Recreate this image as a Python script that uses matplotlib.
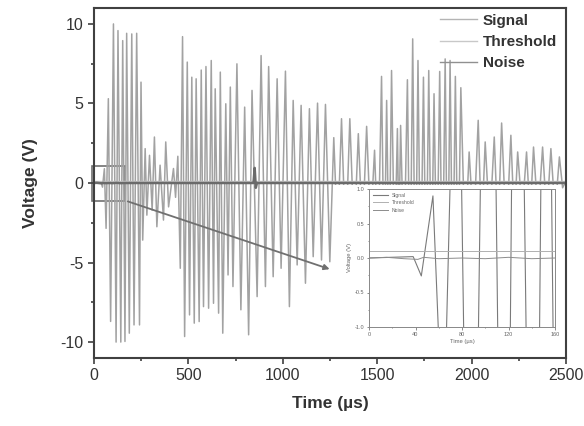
import matplotlib
matplotlib.use('Agg')
import matplotlib.pyplot as plt
from matplotlib.patches import Rectangle
from matplotlib.ticker import MultipleLocator

plt.rcParams['font.family'] = ['Liberation Sans', 'DejaVu Sans']
plt.rcParams['axes.unicode_minus'] = False

# signal vertices (time in us, voltage in V)
sig_t = [0, 38, 45, 55, 64, 76, 88, 103, 117, 127, 142, 152, 164, 173, 187, 200,
         212, 226, 241, 249, 258, 271, 280, 294, 308, 320, 333, 350, 368, 380, 395,
         421, 432, 444, 457, 469, 480, 494, 506, 518, 531, 541, 557, 568, 580, 593,
         607, 621, 633, 642, 660, 669, 682, 698, 710, 722, 736, 757, 778, 798, 819,
         837, 864, 885, 908, 925, 949, 970, 991, 1014, 1035, 1055, 1076, 1097, 1120,
         1141, 1161, 1184, 1205, 1226, 1249, 1270, 1290, 1311, 1333, 1355, 1378,
         1400, 1422, 1444, 1465, 1486, 1505, 1523, 1537, 1550, 1563, 1576, 1592,
         1607, 1615, 1624, 1642, 1660, 1674, 1688, 1702, 1716, 1730, 1745, 1759,
         1773, 1787, 1801, 1816, 1831, 1845, 1860, 1873, 1886, 1900, 1914, 1928,
         1943, 1965, 1987, 2011, 2035, 2053, 2072, 2096, 2120, 2140, 2159, 2184,
         2208, 2226, 2244, 2268, 2291, 2310, 2328, 2352, 2376, 2398, 2420, 2442,
         2465, 2482, 2495]
sig_v = [0.0, 0.02, -0.26, 0.9, -2.85, 5.3, -8.7, 10.0, -10.0, 9.58, -10.0, 8.95,
         -9.96, 9.41, -9.44, 9.37, -8.92, 9.41, -8.92, 6.34, -3.59, 2.16, -2.02,
         1.74, -1.71, 2.89, -2.75, 1.12, -2.33, 2.58, -1.5, 0.91, -0.9, 1.68, -5.36,
         9.2, -9.65, 7.6, -8.29, 6.65, -8.81, 6.55, -8.71, 7.1, -7.77, 7.32, -7.87,
         7.7, -7.56, 5.92, -8.18, 6.97, -9.44, 4.98, -5.78, 6.03, -6.51, 7.49, -7.97,
         4.77, -9.54, 5.82, -7.14, 8.01, -6.51, 7.32, -5.89, 6.55, -5.36, 7.03, -7.77,
         5.19, -5.15, 4.88, -6.3, 4.67, -4.63, 5.02, -4.84, 4.94, -4.95, 2.85, -3.5,
         4.04, -4.0, 4.04, -3.5, 3.1, -3.3, 3.56, -2.8, 2.06, -4.5, 6.7, -6.0, 5.19,
         -6.0, 7.07, -5.0, 3.42, -3.5, 3.62, -5.0, 6.49, -7.5, 9.06, -8.0, 7.7, -7.0,
         6.65, -7.0, 7.07, -6.3, 5.61, -6.3, 7.01, -7.4, 7.8, -7.7, 7.7, -7.2, 6.7,
         -6.3, 5.99, -4.0, 1.95, -3.0, 3.94, -3.2, 2.58, -2.7, 2.89, -3.3, 3.77, -3.4,
         3.0, -2.5, 1.95, -1.9, 1.95, -2.1, 2.26, -2.2, 2.26, -2.2, 2.16, -1.9, 1.64,
         -0.3, 0.0]

noise_t = [0, 15, 30, 42, 47, 60, 80, 100, 120, 140, 160, 845, 851, 857, 863, 2500]
noise_v = [0.0, 0.01, -0.01, -0.02, 0.01, -0.01, 0.0, -0.01, 0.01, -0.01, 0.0,
           0.0, 0.95, -0.3, 0.0, 0.0]

thr_level = 0.1

txt = '#333333'
fig = plt.figure(figsize=(5.84, 4.26), dpi=100)
ax = fig.add_axes([94 / 584, 1 - 358 / 426, 472 / 584, 350 / 426])

ax.plot(sig_t, sig_v, color='#a2a2a2', lw=1.1, label='Signal')
ax.axhline(thr_level, color='#c4c4c4', lw=1.0, label='Threshold')
ax.plot(noise_t, noise_v, color='#6a6a6a', lw=1.8, label='Noise')

ax.set_xlim(0, 2500)
ax.set_ylim(-11, 11)
ax.xaxis.set_major_locator(MultipleLocator(500))
ax.xaxis.set_minor_locator(MultipleLocator(250))
ax.yaxis.set_major_locator(MultipleLocator(5))
ax.yaxis.set_minor_locator(MultipleLocator(2.5))
ax.tick_params(which='both', direction='out', color='#404040', width=1.2,
               labelsize=11.5, labelcolor=txt)
ax.tick_params(which='major', length=4)
ax.tick_params(which='minor', length=2.5)
for s in ax.spines.values():
    s.set_color('#404040')
    s.set_linewidth(1.5)
ax.set_xlabel('Time (µs)', fontsize=12.5, fontweight='bold', color=txt, labelpad=9)
ax.set_ylabel('Voltage (V)', fontsize=12.5, fontweight='bold', color=txt, labelpad=16)

leg = ax.legend(loc='upper right', bbox_to_anchor=(1.01, 1.023), frameon=False,
                handlelength=2.4, labelspacing=0.48, handletextpad=0.4,
                prop={'weight': 'bold', 'size': 11})
for t in leg.get_texts():
    t.set_color(txt)
for ln, c in zip(leg.get_lines(), ['#b4b4b4', '#c8c8c8', '#909090']):
    ln.set_linewidth(1.0)
    ln.set_color(c)

# zoom box and arrow
ax.add_patch(Rectangle((-12, -1.1), 177, 2.15, fill=False, ec='#707070', lw=1.2,
                       clip_on=False))
ax.annotate('', xy=(1262, -5.47), xytext=(165, -1.1), annotation_clip=False,
            arrowprops=dict(arrowstyle='-|>', color='#707070', lw=1.3,
                            mutation_scale=8))

# white background of the inset picture
fig.patches.append(Rectangle((333 / 584, 1 - 356 / 426), 226 / 584, 171 / 426,
                             transform=fig.transFigure, fc='white', ec='none',
                             zorder=1))

ins = fig.add_axes([369 / 584, 1 - 327 / 426, 186 / 584, 138 / 426])
ins.set_zorder(2)
ins.plot(sig_t, sig_v, color='#7a7a7a', lw=0.8, label='Signal')
ins.axhline(thr_level, color='#b0b0b0', lw=0.7, label='Threshold')
ins.plot(noise_t, noise_v, color='#8c8c8c', lw=0.7, label='Noise')
ins.set_xlim(0, 160)
ins.set_ylim(-1, 1)
ins.set_xticks([0, 40, 80, 120, 160])
ins.set_yticks([-1.0, -0.5, 0.0, 0.5, 1.0])
ins.set_yticklabels(['-1.0', '-0.5', '0.0', '0.5', '1.0'])
ins.xaxis.set_minor_locator(MultipleLocator(20))
ins.yaxis.set_minor_locator(MultipleLocator(0.25))
ins.tick_params(which='both', direction='out', color='#777777', width=0.6,
                labelsize=4, labelcolor='#666666', pad=1.5)
ins.tick_params(which='major', length=1.8)
ins.tick_params(which='minor', length=1.0)
for s in ins.spines.values():
    s.set_color('#888888')
    s.set_linewidth(0.7)
ins.set_xlabel('Time (µs)', fontsize=4.2, color='#666666', labelpad=2)
ins.set_ylabel('Voltage (V)', fontsize=4.2, color='#666666', labelpad=2)
il = ins.legend(loc='upper left', frameon=False, fontsize=3.6, handlelength=3,
                labelspacing=0.5, borderaxespad=0.3)
for t in il.get_texts():
    t.set_color('#666666')

fig.savefig('out.png', dpi=100)
